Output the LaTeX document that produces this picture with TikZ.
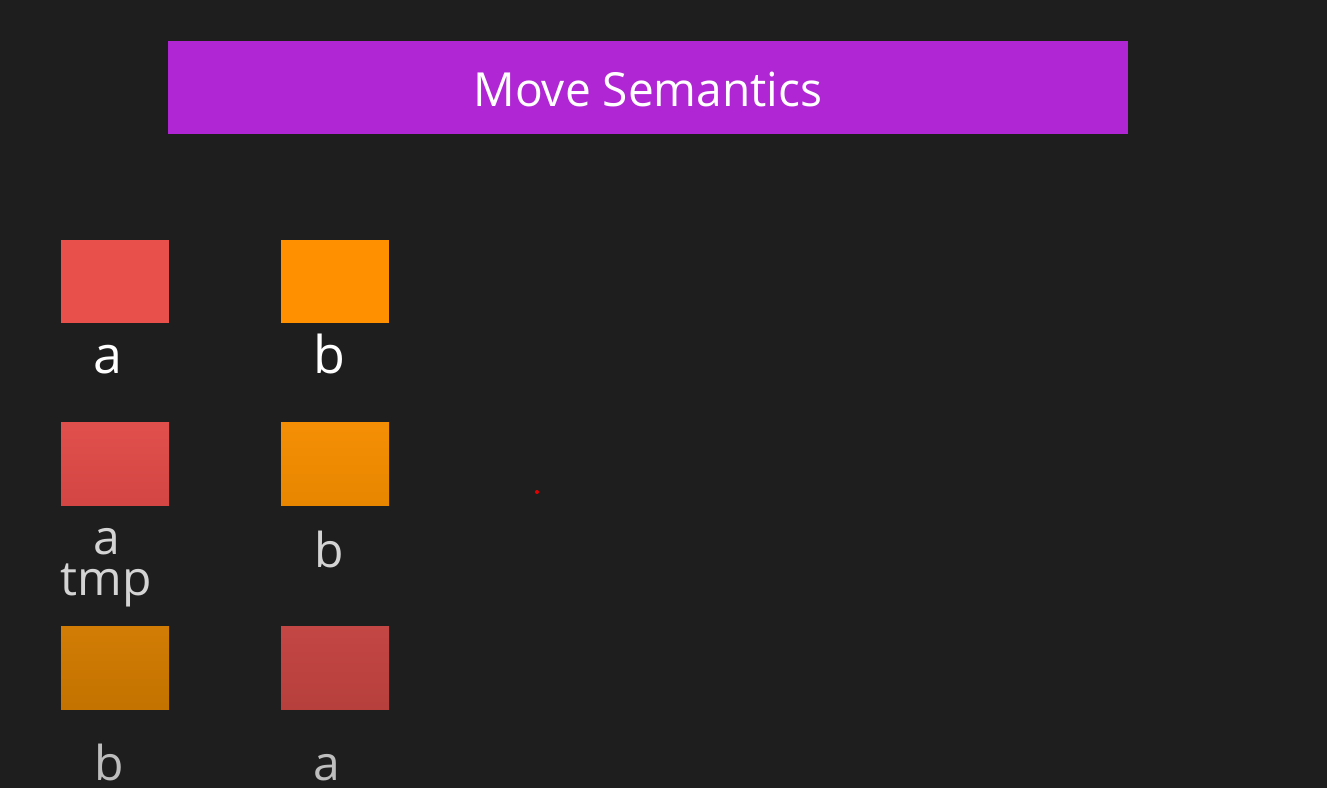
\documentclass[tikz,border=0pt]{standalone}
\usepackage{fontspec}
\setmainfont{Open Sans}
\definecolor{bg}{HTML}{1E1E1E}
\definecolor{titlebar}{HTML}{B026D4}
\definecolor{redA}{HTML}{E8504C}
\definecolor{orangeA}{HTML}{FF9000}
\definecolor{redB}{HTML}{E04A47}
\definecolor{orangeB}{HTML}{F48D00}
\definecolor{redC}{HTML}{C24340}
\definecolor{orangeC}{HTML}{D07A00}
\definecolor{txtA}{HTML}{FFFFFF}
\definecolor{txtB}{HTML}{D4D4D4}
\definecolor{txtC}{HTML}{BEBEBE}
\begin{document}
\begin{tikzpicture}[x=1pt,y=-1pt,
  cell/.style={draw=none,inner sep=0pt,minimum width=108pt,minimum height=83pt,anchor=north west},
  lbl/.style={inner sep=0pt,anchor=base,font=\fontsize{52}{52}\selectfont},
  lblsm/.style={inner sep=0pt,anchor=base,font=\fontsize{48}{48}\selectfont}]
\fill[bg] (0,0) rectangle (1327,788);
\useasboundingbox (0,0) rectangle (1327,788);
\node[draw=none,fill=titlebar,inner sep=0pt,minimum width=960pt,minimum height=93pt,anchor=north west] (title) at (168,41) {};
\node[inner sep=0pt,anchor=base,text=white,font=\fontsize{47}{47}\selectfont,xscale=0.98] (titletext) at (648,106) {Move Semantics};
% row 1
\node[cell,fill=redA] (r1a) at (61,240) {};
\node[cell,fill=orangeA] (r1b) at (281,240) {};
\node[lbl,text=txtA] (l1a) at (108,373) {a};
\node[lbl,text=txtA] (l1b) at (329,373) {b};
% row 2
\node[cell,top color=redB!97!white,bottom color=redB!94!black] (r2a) at (61,422) {};
\node[cell,top color=orangeB!98!white,bottom color=orangeB!95!black] (r2b) at (281,422) {};
\node[lblsm,text=txtB] (l2a) at (107,554) {a};
\node[lblsm,text=txtB] (l2b) at (329,567) {b};
\node[lblsm,text=txtB] (l2tmp) at (106,595) {tmp};
% row 3
\node[cell,top color=orangeC!98!white,bottom color=orangeC!94!black] (r3a) at (61,626) {};
\node[cell,top color=redC!98!white,bottom color=redC!94!black] (r3b) at (281,626) {};
\node[lblsm,text=txtC] (l3b) at (109,780) {b};
\node[lblsm,text=txtC] (l3a) at (327,780) {a};
% pointer dot
\fill[red!90!black] (537,492) circle (2pt);
\end{tikzpicture}
\end{document}
